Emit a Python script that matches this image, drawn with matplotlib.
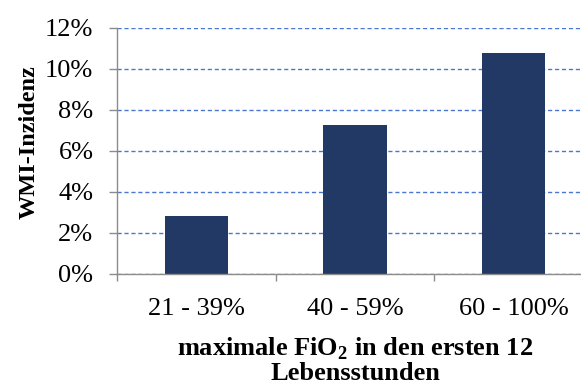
import numpy as np
import matplotlib
matplotlib.use("Agg")
import matplotlib.pyplot as plt
from matplotlib.ticker import FixedLocator, PercentFormatter

# WMI-Inzidenz je FiO2-Gruppe
gruppen = ["21 - 39%", "40 - 59%", "60 - 100%"]
inzidenz = [2.83, 7.23, 10.76]
y_ticks = [0, 2, 4, 6, 8, 10, 12]

plt.rcParams['font.family'] = ['Liberation Serif', 'DejaVu Serif']
plt.rcParams['mathtext.fontset'] = 'custom'
plt.rcParams['mathtext.bf'] = 'Liberation Serif:bold'
plt.rcParams['mathtext.rm'] = 'Liberation Serif:bold'

fig = plt.figure(figsize=(5.81, 3.83), dpi=100)
ax = fig.add_axes([117/581, 109/383, 476/581, 246.5/383])

x = np.arange(len(gruppen))
ax.bar(x, inzidenz, width=0.4, color='#213964', zorder=2)

ax.set_xlim(-0.5, len(gruppen) - 0.5)
ax.set_ylim(0, 12)
ax.set_yticks(y_ticks)
ax.yaxis.set_major_formatter(PercentFormatter(decimals=0))
ax.yaxis.grid(True, color='#4a78d0', linestyle=(0, (3, 2)), linewidth=1.0)
ax.set_axisbelow(True)

ax.set_xticks(x)
ax.set_xticklabels(gruppen)
ax.xaxis.set_minor_locator(FixedLocator(np.arange(len(gruppen) + 1) - 0.5))

for side in ['top', 'right']:
    ax.spines[side].set_visible(False)
for side in ['left', 'bottom']:
    ax.spines[side].set_color('#8c8c8c')
    ax.spines[side].set_linewidth(1.0)

ax.tick_params(axis='y', length=6, width=1.0, color='#8c8c8c', labelsize=19, pad=11)
ax.tick_params(axis='x', which='major', length=0, labelsize=19, pad=17)
ax.tick_params(axis='x', which='minor', length=5, width=1.0, color='#8c8c8c')

ax.set_ylabel('WMI-Inzidenz', fontsize=17.5, fontweight='bold')
ax.yaxis.set_label_coords(-0.163, 0.535)
ax.set_xlabel('maximale FiO$_\\mathbf{2}$ in den ersten 12\nLebensstunden',
              fontsize=19, fontweight='bold', linespacing=1.0, labelpad=11.5)

fig.savefig('out.png', dpi=100)
